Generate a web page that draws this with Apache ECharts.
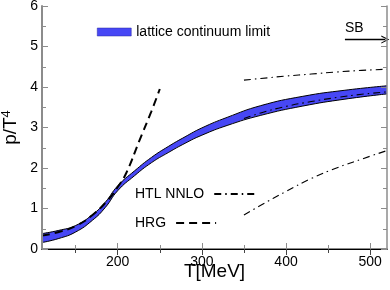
<!DOCTYPE html>
<html><head><meta charset="utf-8">
<script src="https://cdn.jsdelivr.net/npm/echarts@6/dist/echarts.min.js"></script>
<style>html,body{margin:0;padding:0;background:#fff}#c{width:390px;height:290px}</style>
</head><body><div id="c"></div>
<script>
// ---- data ----
const xMajor = [200, 300, 400, 500];
const xMinor = [150, 250, 350, 450];
const bandT    = [110, 130, 150, 170, 185, 200, 220, 240, 260, 280, 300, 330, 370, 420, 470, 520];
const bandLow  = [0.16, 0.26, 0.42, 0.71, 1.02, 1.44, 1.81, 2.13, 2.38, 2.61, 2.81, 3.05, 3.30, 3.53, 3.70, 3.83];
const bandHigh = [0.38, 0.46, 0.58, 0.85, 1.15, 1.56, 1.93, 2.26, 2.53, 2.77, 2.99, 3.25, 3.54, 3.77, 3.92, 4.03];
const hrgT = [110, 130, 150, 170, 190, 200, 210, 226, 240, 250];
const hrgP = [0.33, 0.42, 0.57, 0.84, 1.25, 1.53, 1.87, 2.69, 3.40, 3.95];
const htlT    = [350, 370, 400, 430, 460, 490, 520];
const htlUp   = [4.17, 4.21, 4.27, 4.32, 4.37, 4.41, 4.44];
const htlMid  = [3.22, 3.36, 3.52, 3.64, 3.74, 3.82, 3.88];
const htlLow  = [0.84, 1.08, 1.42, 1.74, 2.00, 2.22, 2.43];
const sbValue = 5.17;
const sbT = [470, 518];

const F = 'Liberation Sans, Arial, sans-serif';
const pairs = (xs, ys) => xs.map((x, i) => [x, ys[i]]);
const BLUE = '#4747f5';
const GRAY = '#8c8c8c';
const dashDot = [7, 4, 1.5, 4];

const chart = echarts.init(document.getElementById('c'), null, {renderer: 'canvas'});
const grid = {left: 42, top: 6, right: 3, bottom: 41, outerBoundsMode: 'none', containLabel: false};
const lineLegend = (name, top) => ({
  left: 135, top: top, padding: 0, orient: 'horizontal', align: 'right',
  itemWidth: 40, itemHeight: 12, selectedMode: false, itemStyle: {opacity: 0},
  data: [name], textStyle: {fontSize: 14, color: '#000', fontFamily: F, padding: [0, 5, 0, 0]}
});

chart.setOption({
  animation: false,
  textStyle: {fontFamily: F},
  grid: [Object.assign({}, grid), Object.assign({}, grid)],
  xAxis: [
    {type: 'value', gridIndex: 0, position: 'bottom', min: 110, max: 520, z: 10,
     axisLine: {show: true, lineStyle: {color: GRAY, width: 2}},
     axisTick: {show: true, inside: true, length: 6, customValues: xMajor, lineStyle: {color: GRAY, width: 1}},
     axisLabel: {customValues: xMajor, color: '#000', fontSize: 14, margin: 6, fontFamily: F},
     splitLine: {show: false},
     name: 'T[MeV]', nameLocation: 'middle', nameGap: 13, nameMoveOverlap: false,
     nameTextStyle: {fontSize: 19, color: '#000', fontFamily: F}},
    {type: 'value', gridIndex: 0, position: 'top', min: 110, max: 520, z: 10,
     axisLine: {show: true, lineStyle: {color: '#000', width: 1}},
     axisTick: {show: true, inside: true, length: 6, customValues: xMajor, lineStyle: {color: '#444'}},
     axisLabel: {show: false}, splitLine: {show: false}},
    {type: 'value', gridIndex: 1, position: 'bottom', min: 110, max: 520, z: 10,
     axisLine: {show: false},
     axisTick: {show: true, inside: true, length: 4, customValues: xMinor, lineStyle: {color: GRAY}},
     axisLabel: {show: false}, splitLine: {show: false}},
    {type: 'value', gridIndex: 1, position: 'top', min: 110, max: 520, z: 10,
     axisLine: {show: false},
     axisTick: {show: true, inside: true, length: 4, customValues: xMinor, lineStyle: {color: '#444'}},
     axisLabel: {show: false}, splitLine: {show: false}}
  ],
  yAxis: [
    {type: 'value', gridIndex: 0, position: 'left', min: 0, max: 6, interval: 1, z: 10,
     axisLine: {show: true, lineStyle: {color: GRAY, width: 2}},
     axisTick: {show: true, inside: true, length: 6, lineStyle: {color: GRAY}},
     minorTick: {show: true, splitNumber: 2, length: 4, lineStyle: {color: GRAY}},
     axisLabel: {color: '#000', fontSize: 14, margin: 4, fontFamily: F},
     splitLine: {show: false}, minorSplitLine: {show: false},
     name: 'p/T{sup|4}', nameLocation: 'middle', nameGap: 20, nameRotate: 90, nameMoveOverlap: false,
     nameTextStyle: {fontSize: 19, color: '#000', fontFamily: F,
       rich: {sup: {fontSize: 13, color: '#000', fontFamily: F, padding: [0, 0, 9, 0]}}}},
    {type: 'value', gridIndex: 0, position: 'right', min: 0, max: 6, interval: 1, z: 10,
     axisLine: {show: true, lineStyle: {color: GRAY, width: 1.5}},
     axisTick: {show: true, inside: true, length: 6, lineStyle: {color: GRAY}},
     minorTick: {show: true, splitNumber: 2, length: 4, lineStyle: {color: GRAY}},
     axisLabel: {show: false}, splitLine: {show: false}, minorSplitLine: {show: false}},
    {type: 'value', gridIndex: 1, min: 0, max: 6, show: false},
    {type: 'value', gridIndex: 1, min: 0, max: 6, position: 'right', show: false}
  ],
  legend: [
    {left: 97, top: 25, padding: 0, itemWidth: 34, itemHeight: 8, itemGap: 5,
     selectedMode: false,
     data: [{name: 'lattice continuum limit', icon: 'rect', itemStyle: {color: BLUE, borderColor: '#2a2aa0', borderWidth: 0.5}}],
     textStyle: {fontSize: 14, color: '#000', fontFamily: F}},
    lineLegend('HTL NNLO', 187),
    lineLegend('HRG', 216)
  ],
  series: [
    {name: 'lattice continuum limit', type: 'line', symbol: 'none', smooth: true,
     data: pairs(bandT, bandHigh), lineStyle: {color: '#000', width: 1},
     itemStyle: {color: BLUE}, areaStyle: {color: BLUE, opacity: 1, origin: 'start'}, z: 1},
    {name: 'band lower edge', type: 'line', symbol: 'none', smooth: true,
     data: pairs(bandT, bandLow), lineStyle: {color: '#000', width: 1},
     itemStyle: {color: '#fff'}, areaStyle: {color: '#fff', opacity: 1, origin: 'start'}, z: 2},
    {name: 'HRG', type: 'line', symbol: 'none', smooth: true, data: pairs(hrgT, hrgP),
     lineStyle: {color: '#000', width: 2, type: [8, 5]}, itemStyle: {color: '#000'}, z: 3},
    {name: 'HTL NNLO', type: 'line', symbol: 'none', smooth: true, data: pairs(htlT, htlUp),
     lineStyle: {color: '#000', width: 1.1, type: dashDot}, itemStyle: {color: '#000'}, z: 3},
    {name: 'HTL NNLO', type: 'line', symbol: 'none', smooth: true, data: pairs(htlT, htlMid),
     lineStyle: {color: '#000', width: 1.1, type: dashDot}, itemStyle: {color: '#000'}, z: 3},
    {name: 'HTL NNLO', type: 'line', symbol: 'none', smooth: true, data: pairs(htlT, htlLow),
     lineStyle: {color: '#000', width: 1.1, type: dashDot}, itemStyle: {color: '#000'}, z: 3},
    {name: 'SB', type: 'line', symbol: 'none', data: [],
     markLine: {silent: true, animation: false,
       symbol: ['none', 'path://M0,10 L5,0 L10,10 L8.6,10 L5,2.6 L1.4,10 Z'], symbolSize: [8, 8],
       lineStyle: {color: '#000', width: 1.3, type: 'solid'},
       label: {show: true, formatter: 'SB', position: 'insideStartTop', distance: [0, 4],
               color: '#000', fontSize: 14, fontFamily: F},
       data: [[{coord: [sbT[0], sbValue]}, {coord: [sbT[1], sbValue]}]]}}
  ]
});
</script></body></html>
